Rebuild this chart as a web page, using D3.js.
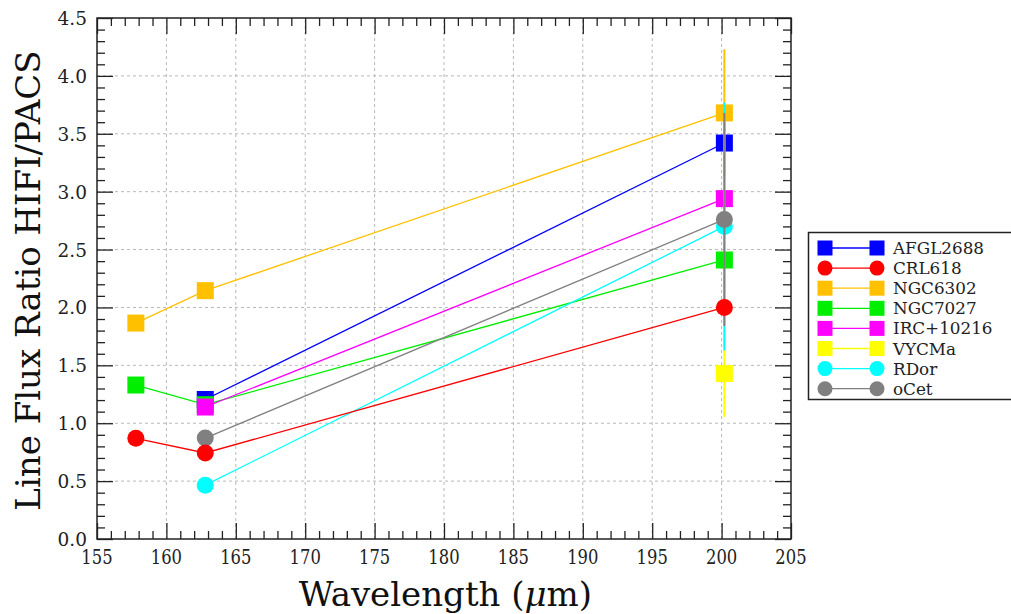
<!DOCTYPE html>
<html>
<head>
<meta charset="utf-8">
<script src="https://cdn.jsdelivr.net/npm/d3@7"></script>
<style>
  html, body { margin: 0; padding: 0; background: #fff; }
  svg { display: block; }
</style>
</head>
<body>
<svg id="chart" width="1011" height="614"></svg>
<script>
// Wavelengths of the three compared lines (micron)
const wavelengths = [157.8, 162.8, 200.2];

// HIFI/PACS line flux ratios per source (null = no measurement)
const afgl2688 = [null, 1.205, 3.42];
const crl618   = [0.87, 0.743, 2.00];
const ngc6302  = [1.865, 2.145, 3.68];
const ngc7027  = [1.33, 1.16, 2.41];
const irc10216 = [null, 1.14, 2.94];
const vycma    = [null, null, 1.43];
const rdor     = [null, 0.465, 2.70];
const ocet     = [null, 0.872, 2.76];

// Uncertainties on the ratios (0 = none drawn)
const afgl2688Err = [0, 0, 0];
const crl618Err   = [0, 0, 0];
const ngc6302Err  = [0, 0, 0.55];
const ngc7027Err  = [0, 0, 0];
const irc10216Err = [0, 0, 0];
const vycmaErr    = [0, 0, 0.375];
const rdorErr     = [0, 0, 1.07];
const ocetErr     = [0, 0, 0.92];

const sourceNames = ["AFGL2688", "CRL618", "NGC6302", "NGC7027", "IRC+10216", "VYCMa", "RDor", "oCet"];

const xTicks = [155, 160, 165, 170, 175, 180, 185, 190, 195, 200, 205];
const yTicks = [0.0, 0.5, 1.0, 1.5, 2.0, 2.5, 3.0, 3.5, 4.0, 4.5];

const series = [
  { name: sourceNames[0], values: afgl2688, errs: afgl2688Err, color: "#0000ff", shape: "square" },
  { name: sourceNames[1], values: crl618,   errs: crl618Err,   color: "#ff0000", shape: "circle" },
  { name: sourceNames[2], values: ngc6302,  errs: ngc6302Err,  color: "#ffc000", shape: "square" },
  { name: sourceNames[3], values: ngc7027,  errs: ngc7027Err,  color: "#00ee00", shape: "square" },
  { name: sourceNames[4], values: irc10216, errs: irc10216Err, color: "#ff00ff", shape: "square" },
  { name: sourceNames[5], values: vycma,    errs: vycmaErr,    color: "#ffff00", shape: "square" },
  { name: sourceNames[6], values: rdor,     errs: rdorErr,     color: "#00ffff", shape: "circle" },
  { name: sourceNames[7], values: ocet,     errs: ocetErr,     color: "#808080", shape: "circle" }
];
// CRL618 is plotted last so it sits above the other sources
const drawOrder = [0, 2, 3, 4, 5, 6, 7, 1];

const svg = d3.select("#chart");
const margin = { left: 97, top: 18, right: 220, bottom: 75 };
const W = 1011, H = 614;
const plotW = W - margin.left - margin.right;   // 694
const plotH = H - margin.top - margin.bottom;   // 521

const x = d3.scaleLinear().domain([155, 205]).range([margin.left, margin.left + plotW]);
const y = d3.scaleLinear().domain([0, 4.5]).range([margin.top + plotH, margin.top]);

const serif = "'DejaVu Serif', serif";

// dashed grid at the major ticks
const grid = svg.append("g").attr("stroke", "#b8b8b8").attr("stroke-width", 1).attr("stroke-dasharray", "3,3");
xTicks.slice(1, -1).forEach(t => {
  grid.append("line").attr("x1", x(t)).attr("x2", x(t)).attr("y1", y(0)).attr("y2", y(4.5));
});
yTicks.slice(1, -1).forEach(t => {
  grid.append("line").attr("x1", x(155)).attr("x2", x(205)).attr("y1", y(t)).attr("y2", y(t));
});

// inward ticks on all four sides
const majorLen = 16, minorLen = 8;
const xMinor = d3.range(155, 205.001, 1).filter(v => Math.abs(v % 5) > 1e-6);
const yMinor = d3.range(0, 4.5001, 0.1).filter(v => Math.abs(Math.round(v * 10) % 5) !== 0);

function axisGen(axisFn, scale, ticks, len) {
  return axisFn(scale).tickValues(ticks).tickSize(len).tickSizeOuter(0).tickFormat("");
}
const tickGroup = svg.append("g");
function addAxis(axisFn, transform, ticks, len) {
  const g = tickGroup.append("g").attr("transform", transform)
    .call(axisGen(axisFn, axisFn === d3.axisBottom || axisFn === d3.axisTop ? x : y, ticks, len));
  g.select(".domain").remove();
  g.selectAll("line").attr("stroke", "#222").attr("stroke-width", 1.3);
}
// bottom (ticks pointing up), top (pointing down), left (pointing right), right (pointing left)
addAxis(d3.axisTop, `translate(0,${y(0)})`, xTicks, majorLen);
addAxis(d3.axisTop, `translate(0,${y(0)})`, xMinor, minorLen);
addAxis(d3.axisBottom, `translate(0,${y(4.5)})`, xTicks, majorLen);
addAxis(d3.axisBottom, `translate(0,${y(4.5)})`, xMinor, minorLen);
addAxis(d3.axisRight, `translate(${x(155)},0)`, yTicks, majorLen);
addAxis(d3.axisRight, `translate(${x(155)},0)`, yMinor, minorLen);
addAxis(d3.axisLeft, `translate(${x(205)},0)`, yTicks, majorLen);
addAxis(d3.axisLeft, `translate(${x(205)},0)`, yMinor, minorLen);

// tick labels
const xLab = svg.append("g").attr("font-family", serif).attr("font-size", 21).attr("fill", "#222");
xTicks.forEach(t => {
  xLab.append("text")
    .attr("transform", `translate(${x(t)},${y(0) + 25}) scale(0.78,1)`)
    .attr("text-anchor", "middle")
    .text(t);
});
const yLab = svg.append("g").attr("font-family", serif).attr("font-size", 18.5).attr("fill", "#222");
yTicks.forEach(t => {
  yLab.append("text")
    .attr("x", x(155) - 10).attr("y", y(t) + 7)
    .attr("text-anchor", "end")
    .text(d3.format(".1f")(t));
});

// axis titles
svg.append("text")
  .attr("transform", `translate(40,${margin.top + plotH / 2 + 2}) rotate(-90)`)
  .attr("text-anchor", "middle")
  .attr("font-family", serif).attr("font-size", 34).attr("fill", "#111")
  .text("Line Flux Ratio HIFI/PACS");
svg.append("text")
  .attr("transform", `translate(${x(180.1)},${H - 8}) scale(1.0,1)`)
  .attr("text-anchor", "middle")
  .attr("font-family", serif).attr("font-size", 34).attr("fill", "#111")
  .html("Wavelength (<tspan font-style='italic'>μ</tspan>m)");

// marker drawing helper
function marker(g, shape, cx, cy, size, color) {
  if (shape === "square") {
    g.append("rect").attr("x", cx - size / 2).attr("y", cy - size / 2)
      .attr("width", size).attr("height", size).attr("fill", color);
  } else {
    g.append("circle").attr("cx", cx).attr("cy", cy).attr("r", size / 2).attr("fill", color);
  }
}

const dataLayer = svg.append("g");
const line = d3.line().defined(d => d.v !== null).x(d => x(d.w)).y(d => y(d.v));
drawOrder.forEach(i => {
  const s = series[i];
  const pts = wavelengths.map((w, k) => ({ w, v: s.values[k], e: s.errs[k] }));
  const g = dataLayer.append("g");
  g.append("path").datum(pts).attr("d", line)
    .attr("fill", "none").attr("stroke", s.color).attr("stroke-width", 1.3);
  pts.filter(p => p.v !== null && p.e > 0).forEach(p => {
    g.append("line").attr("x1", x(p.w)).attr("x2", x(p.w))
      .attr("y1", y(p.v - p.e)).attr("y2", y(p.v + p.e))
      .attr("stroke", s.color).attr("stroke-width", 2);
  });
  pts.filter(p => p.v !== null).forEach(p => marker(g, s.shape, x(p.w), y(p.v), 17, s.color));
});

// frame
svg.append("rect").attr("x", margin.left).attr("y", margin.top)
  .attr("width", plotW).attr("height", plotH)
  .attr("fill", "none").attr("stroke", "#222").attr("stroke-width", 1.5);

// legend
const legend = svg.append("g");
legend.append("rect").attr("x", 808.5).attr("y", 232.5).attr("width", 210).attr("height", 167)
  .attr("fill", "#fff").attr("stroke", "#222").attr("stroke-width", 1.5);
series.forEach((s, i) => {
  const cy = 248 + i * 20.1;
  legend.append("line").attr("x1", 825).attr("x2", 877).attr("y1", cy).attr("y2", cy)
    .attr("stroke", s.color).attr("stroke-width", 1.3);
  marker(legend, s.shape, 825, cy, 15, s.color);
  marker(legend, s.shape, 877, cy, 15, s.color);
  legend.append("text").attr("x", 893).attr("y", cy + 6)
    .attr("font-family", serif).attr("font-size", 16.8).attr("fill", "#222")
    .text(s.name);
});
</script>
</body>
</html>
